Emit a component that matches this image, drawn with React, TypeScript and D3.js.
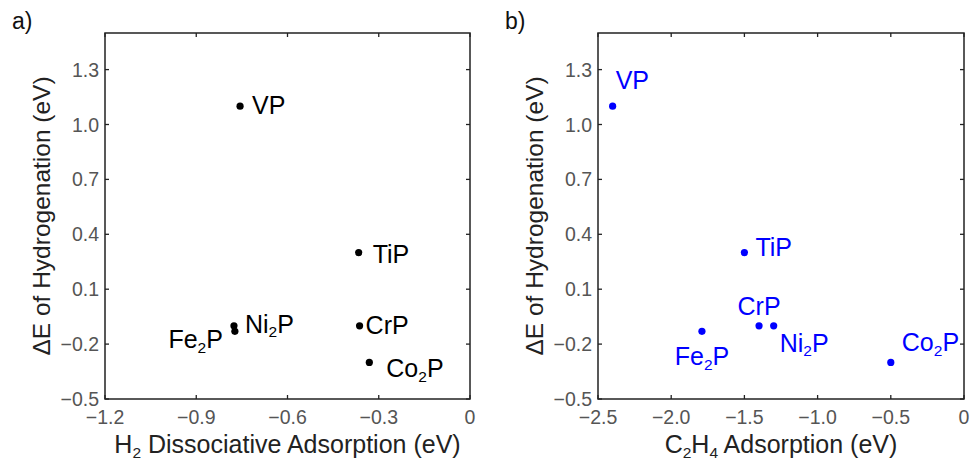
import * as d3 from "d3";

const WIDTH = 976;
const HEIGHT = 463;

// data
const phosphides = ["VP", "TiP", "CrP", "Co2P", "Ni2P", "Fe2P"];
const hydrogenationEnergy = [1.1, 0.3, -0.1, -0.3, -0.1, -0.13];
const h2Adsorption = [-0.756, -0.366, -0.363, -0.331, -0.776, -0.773];
const c2h4Adsorption = [-2.4, -1.5, -1.4, -0.5, -1.3, -1.79];

const yTicks = [-0.5, -0.2, 0.1, 0.4, 0.7, 1.0, 1.3];
const xTicksA = [-1.2, -0.9, -0.6, -0.3, 0];
const xTicksB = [-2.5, -2.0, -1.5, -1.0, -0.5, 0];

// label placement relative to each dot: [dx, dy, anchor]
const labelPosA: [number, number, string][] = [
  [12, 8, "start"],
  [14, 10, "start"],
  [6, 8, "start"],
  [17, 15, "start"],
  [11, 7, "start"],
  [-12, 17, "end"],
];
const labelPosB: [number, number, string][] = [
  [3, -17, "start"],
  [11, 3, "start"],
  [0, -11, "middle"],
  [11, -11, "start"],
  [6, 26, "start"],
  [0, 34, "middle"],
];

const FONT = "'Liberation Sans', Arial, Helvetica, sans-serif";

const fmt = (v: number) => {
  if (v === 0) return "0";
  const s = Math.abs(v).toFixed(1);
  return v < 0 ? "\u2212" + s : s;
};

// "Co2P" -> Co + subscript 2 + P
function Chem({ text }: { text: string }) {
  const parts = text.split(/(\d)/).filter((p) => p !== "");
  return (
    <>
      {parts.map((p, i) =>
        /\d/.test(p) ? (
          <tspan key={i} fontSize="0.62em" dy="0.3em">
            {p}
          </tspan>
        ) : (
          <tspan key={i} dy={i > 0 && /\d/.test(parts[i - 1]) ? "-0.186em" : undefined}>
            {p}
          </tspan>
        )
      )}
    </>
  );
}

function Panel({
  left,
  right,
  xDomain,
  xTicks,
  xs,
  color,
  labelPos,
  tag,
  xLabel,
}: {
  left: number;
  right: number;
  xDomain: [number, number];
  xTicks: number[];
  xs: number[];
  color: string;
  labelPos: [number, number, string][];
  tag: string;
  xLabel: any;
}) {
  const top = 33;
  const bottom = 399;
  const x = d3.scaleLinear().domain(xDomain).range([left, right]);
  const y = d3.scaleLinear().domain([-0.5, 1.5]).range([bottom, top]);
  const tickLen = 4;
  const axisColor = "#222";
  const tickTextColor = "#555";

  return (
    <g fontFamily={FONT}>
      <text x={left - 93} y={29} fontSize={23} fill="#111">
        {tag}
      </text>
      {/* ticks on all four sides, pointing in */}
      {xTicks.map((t) => (
        <g key={"x" + t}>
          <line x1={x(t)} x2={x(t)} y1={bottom} y2={bottom - tickLen} stroke={axisColor} strokeWidth={1.3} />
          <line x1={x(t)} x2={x(t)} y1={top} y2={top + tickLen} stroke={axisColor} strokeWidth={1.3} />
          <text x={x(t)} y={424} textAnchor="middle" fontSize={19.5} fill={tickTextColor}>
            {fmt(t)}
          </text>
        </g>
      ))}
      {yTicks.map((t) => (
        <g key={"y" + t}>
          <line x1={left} x2={left + tickLen} y1={y(t)} y2={y(t)} stroke={axisColor} strokeWidth={1.3} />
          <line x1={right} x2={right - tickLen} y1={y(t)} y2={y(t)} stroke={axisColor} strokeWidth={1.3} />
          <text x={left - 6} y={y(t)} dy="0.36em" textAnchor="end" fontSize={19.5} fill={tickTextColor}>
            {fmt(t)}
          </text>
        </g>
      ))}
      <rect x={left} y={top} width={right - left} height={bottom - top} fill="none" stroke={axisColor} strokeWidth={1.5} />
      {phosphides.map((name, i) => {
        const cx = x(xs[i]);
        const cy = y(hydrogenationEnergy[i]);
        const [dx, dy, anchor] = labelPos[i];
        return (
          <g key={name}>
            <circle cx={cx} cy={cy} r={3.6} fill={color} />
            <text x={cx + dx} y={cy + dy} textAnchor={anchor} fontSize={25} fill={color}>
              <Chem text={name} />
            </text>
          </g>
        );
      })}
      <text x={(left + right) / 2} y={453} textAnchor="middle" fontSize={25} fill="#222">
        {xLabel}
      </text>
      <text
        transform={`translate(${left - 55}, ${(top + bottom) / 2}) rotate(-90)`}
        textAnchor="middle"
        fontSize={24.5}
        fill="#222"
      >
        {"\u0394E of Hydrogenation (eV)"}
      </text>
    </g>
  );
}

export default function App() {
  return (
    <svg width={WIDTH} height={HEIGHT} style={{ display: "block", position: "absolute", left: 0, top: 0 }}>
      <rect width={WIDTH} height={HEIGHT} fill="#fff" />
      <Panel
        left={105}
        right={470}
        xDomain={[-1.2, 0]}
        xTicks={xTicksA}
        xs={h2Adsorption}
        color="#000"
        labelPos={labelPosA}
        tag="a)"
        xLabel={<Chem text="H2 Dissociative Adsorption (eV)" />}
      />
      <Panel
        left={598}
        right={964}
        xDomain={[-2.5, 0]}
        xTicks={xTicksB}
        xs={c2h4Adsorption}
        color="#0000ff"
        labelPos={labelPosB}
        tag="b)"
        xLabel={<Chem text="C2H4 Adsorption (eV)" />}
      />
    </svg>
  );
}
